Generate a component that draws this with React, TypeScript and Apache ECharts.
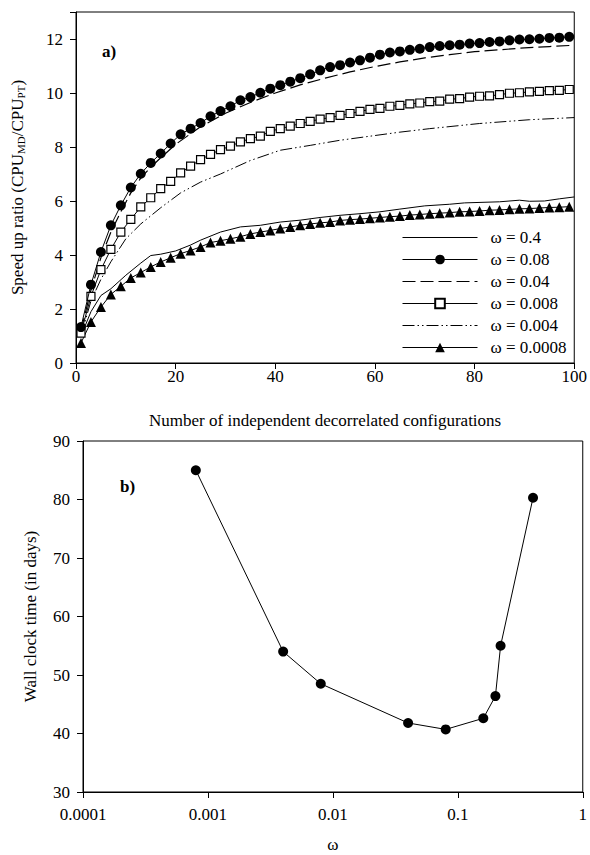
import React, { useEffect, useRef } from "react";
import * as echarts from "echarts";

// x positions of the marker series (every 2 configurations)
const X_MARK = [1, 3, 5, 7, 9, 11, 13, 15, 17, 19, 21, 23, 25, 27, 29, 31, 33, 35, 37, 39, 41, 43, 45, 47, 49, 51, 53, 55, 57, 59, 61, 63, 65, 67, 69, 71, 73, 75, 77, 79, 81, 83, 85, 87, 89, 91, 93, 95, 97, 99];

const W_008 = [1.33, 2.9, 4.11, 5.1, 5.84, 6.5, 7.01, 7.41, 7.76, 8.13, 8.47, 8.68, 8.89, 9.14, 9.33, 9.51, 9.73, 9.85, 10.01, 10.16, 10.29, 10.42, 10.55, 10.69, 10.84, 10.96, 11.03, 11.13, 11.21, 11.31, 11.42, 11.5, 11.54, 11.6, 11.64, 11.7, 11.74, 11.77, 11.79, 11.83, 11.85, 11.89, 11.91, 11.95, 11.98, 11.99, 12.01, 12.04, 12.05, 12.08];

const W_0008 = [1.11, 2.47, 3.46, 4.21, 4.85, 5.32, 5.78, 6.12, 6.46, 6.73, 7.04, 7.29, 7.53, 7.73, 7.9, 8.03, 8.19, 8.31, 8.4, 8.58, 8.68, 8.77, 8.87, 8.95, 9.03, 9.09, 9.17, 9.24, 9.32, 9.39, 9.43, 9.51, 9.54, 9.6, 9.63, 9.68, 9.7, 9.77, 9.79, 9.85, 9.88, 9.89, 9.94, 9.99, 10.01, 10.04, 10.06, 10.09, 10.1, 10.13];

const W_00008 = [0.74, 1.52, 2.07, 2.54, 2.84, 3.15, 3.35, 3.56, 3.74, 3.9, 4.05, 4.17, 4.3, 4.46, 4.53, 4.6, 4.68, 4.78, 4.85, 4.91, 4.98, 5.04, 5.1, 5.15, 5.19, 5.22, 5.28, 5.31, 5.33, 5.36, 5.39, 5.42, 5.44, 5.48, 5.5, 5.53, 5.55, 5.57, 5.6, 5.61, 5.63, 5.66, 5.67, 5.69, 5.71, 5.72, 5.74, 5.76, 5.77, 5.79];

// omega = 0.4 (solid line)
const X_04 = [1, 3, 5, 7, 10, 13, 15, 17, 20, 23, 25, 29, 33, 37, 41, 45, 49, 53, 57, 61, 65, 70, 75, 78, 85, 89, 91, 94, 97, 100];
const W_04 = [1.0, 1.9, 2.5, 2.75, 3.25, 3.7, 3.98, 4.03, 4.15, 4.37, 4.55, 4.85, 5.04, 5.1, 5.22, 5.29, 5.39, 5.47, 5.53, 5.6, 5.7, 5.82, 5.88, 5.93, 5.97, 6.03, 5.99, 6.0, 6.08, 6.15];

// omega = 0.04 (dashed line)
const X_004 = [1, 3, 5, 7, 9, 11, 13, 15, 17, 20, 25, 30, 35, 40, 45, 50, 55, 60, 65, 70, 75, 80, 85, 90, 95, 100];
const W_004 = [1.2, 2.7, 3.9, 4.85, 5.6, 6.3, 6.85, 7.25, 7.6, 8.1, 8.75, 9.25, 9.65, 10.0, 10.3, 10.55, 10.78, 10.98, 11.15, 11.3, 11.42, 11.53, 11.6, 11.67, 11.72, 11.77];

// omega = 0.004 (dash-dot-dot line)
const X_0004 = [1, 3, 5, 7, 10, 13, 17, 21, 25, 29, 35, 41, 47, 53, 59, 65, 71, 81, 91, 100];
const W_0004 = [1.0, 2.3, 3.1, 3.75, 4.6, 5.15, 5.75, 6.3, 6.7, 7.0, 7.5, 7.88, 8.06, 8.25, 8.4, 8.55, 8.68, 8.87, 9.01, 9.09];

// panel b
const OMEGA_B = [0.0008, 0.004, 0.008, 0.04, 0.08, 0.16, 0.2, 0.22, 0.4];
const WALL_DAYS = [85.0, 54.0, 48.5, 41.8, 40.7, 42.6, 46.4, 55.0, 80.3];

const LEGEND_NAMES = ["ω = 0.4", "ω = 0.08", "ω = 0.04", "ω = 0.008", "ω = 0.004", "ω = 0.0008"];
const LINE_ONLY = [true, false, true, false, true, false];

const FONT = "Liberation Serif";
const FS = 17;

function zip(xs: number[], ys: number[]) {
  return xs.map((x, i) => [x, ys[i]]);
}

export default function App() {
  const ref = useRef<HTMLDivElement>(null);
  useEffect(() => {
    if (!ref.current) return;
    const chart = echarts.init(ref.current, undefined, { renderer: "svg" });
    const black = "#000";
    const axisCommon = {
      axisLine: { show: true, lineStyle: { color: black, width: 1 } },
      axisTick: { show: true, inside: false, length: 6, lineStyle: { color: black } },
      splitLine: { show: false },
      axisLabel: { color: black, fontFamily: FONT, fontSize: FS },
      nameTextStyle: { color: black, fontFamily: FONT, fontSize: FS },
    };
    const option: any = {
      animation: false,
      backgroundColor: "#fff",
      textStyle: { fontFamily: FONT, color: black },
      grid: [
        { left: 76, top: 12, width: 501, height: 351, show: true, borderColor: black, borderWidth: 1, backgroundColor: "transparent" },
        { left: 83, top: 441, width: 500, height: 351, show: true, borderColor: black, borderWidth: 1, backgroundColor: "transparent" },
      ],
      xAxis: [
        {
          ...axisCommon,
          type: "value",
          gridIndex: 0,
          min: 0,
          max: 100,
          interval: 20,
          name: "Number of independent decorrelated configurations",
          nameLocation: "middle",
          nameGap: 49,
          axisLabel: { ...axisCommon.axisLabel, margin: 5 },
        },
        {
          ...axisCommon,
          type: "log",
          gridIndex: 1,
          min: 0.0001,
          max: 1,
          logBase: 10,
          name: "ω",
          nameLocation: "middle",
          nameGap: 44,
          axisLabel: {
            ...axisCommon.axisLabel,
            margin: 14,
            formatter: (v: number) => String(+v.toPrecision(1)),
          },
          minorTick: { show: false },
        },
      ],
      yAxis: [
        {
          ...axisCommon,
          type: "value",
          gridIndex: 0,
          min: 0,
          max: 13,
          interval: 2,
          name: "Speed up ratio (CPU{sub|MD}/CPU{sub|PT})",
          nameLocation: "middle",
          nameRotate: 90,
          nameGap: 50,
          nameTextStyle: {
            ...axisCommon.nameTextStyle,
            rich: {
              sub: { fontFamily: FONT, fontSize: 11, color: black, verticalAlign: "bottom", padding: [6, 0, 0, 0] },
            },
          },
          axisLabel: {
            ...axisCommon.axisLabel,
            margin: 13,
            formatter: (v: number) => (v % 2 === 0 && v <= 12 ? String(v) : ""),
          },
        },
        {
          ...axisCommon,
          type: "value",
          gridIndex: 1,
          min: 30,
          max: 90,
          interval: 10,
          name: "Wall clock time (in days)",
          nameLocation: "middle",
          nameRotate: 90,
          nameGap: 44,
          axisLabel: { ...axisCommon.axisLabel, margin: 13 },
        },
      ],
      legend: {
        show: true,
        orient: "vertical",
        left: 402,
        top: 229,
        padding: 0,
        itemWidth: 75,
        itemHeight: 12,
        itemGap: 5,
        lineStyle: { width: 1 },
        data: LEGEND_NAMES.map((name, i) =>
          LINE_ONLY[i]
            ? { name, itemStyle: { color: "rgba(0,0,0,0)", borderColor: "rgba(0,0,0,0)", borderWidth: 0 } }
            : { name }
        ),
        textStyle: { fontFamily: FONT, fontSize: FS, color: black, padding: [0, 0, 0, 8] },
        inactiveColor: black,
      },
      graphic: [
        { type: "text", left: 102, top: 43, style: { text: "a)", fontFamily: FONT, fontSize: FS, fontWeight: "bold", fill: black } },
        { type: "text", left: 120, top: 478, style: { text: "b)", fontFamily: FONT, fontSize: FS, fontWeight: "bold", fill: black } },
      ],
      series: [
        {
          name: LEGEND_NAMES[0],
          type: "line",
          xAxisIndex: 0,
          yAxisIndex: 0,
          data: zip(X_04, W_04),
          symbol: "none",
          showSymbol: false,
          lineStyle: { color: black, width: 1 },
          itemStyle: { color: black },
        },
        {
          name: LEGEND_NAMES[1],
          type: "line",
          xAxisIndex: 0,
          yAxisIndex: 0,
          data: zip(X_MARK, W_008),
          symbol: "circle",
          symbolSize: 10,
          lineStyle: { color: black, width: 1 },
          itemStyle: { color: black, borderColor: black, borderWidth: 0 },
          z: 5,
        },
        {
          name: LEGEND_NAMES[2],
          type: "line",
          xAxisIndex: 0,
          yAxisIndex: 0,
          data: zip(X_004, W_004),
          symbol: "none",
          showSymbol: false,
          lineStyle: { color: black, width: 1.2, type: [13, 5] },
          itemStyle: { color: black },
        },
        {
          name: LEGEND_NAMES[3],
          type: "line",
          xAxisIndex: 0,
          yAxisIndex: 0,
          data: zip(X_MARK, W_0008),
          symbol: "rect",
          symbolSize: 8,
          lineStyle: { color: black, width: 1 },
          itemStyle: { color: "#fff", borderColor: black, borderWidth: 1.2 },
          z: 4,
        },
        {
          name: LEGEND_NAMES[4],
          type: "line",
          xAxisIndex: 0,
          yAxisIndex: 0,
          data: zip(X_0004, W_0004),
          symbol: "none",
          showSymbol: false,
          lineStyle: { color: black, width: 1, type: [12, 3, 1.5, 3, 1.5, 3] },
          itemStyle: { color: black },
        },
        {
          name: LEGEND_NAMES[5],
          type: "line",
          xAxisIndex: 0,
          yAxisIndex: 0,
          data: zip(X_MARK, W_00008),
          symbol: "triangle",
          symbolSize: 10,
          lineStyle: { color: black, width: 1 },
          itemStyle: { color: black, borderColor: black, borderWidth: 0 },
          z: 4,
        },
        {
          name: "wall",
          type: "line",
          xAxisIndex: 1,
          yAxisIndex: 1,
          data: zip(OMEGA_B, WALL_DAYS),
          symbol: "circle",
          symbolSize: 10,
          lineStyle: { color: black, width: 1 },
          itemStyle: { color: black },
        },
      ],
    };
    chart.setOption(option);
    return () => chart.dispose();
  }, []);
  return (
    <div
      ref={ref}
      style={{ position: "fixed", left: 0, top: 0, width: 590, height: 855, background: "#fff" }}
    />
  );
}
